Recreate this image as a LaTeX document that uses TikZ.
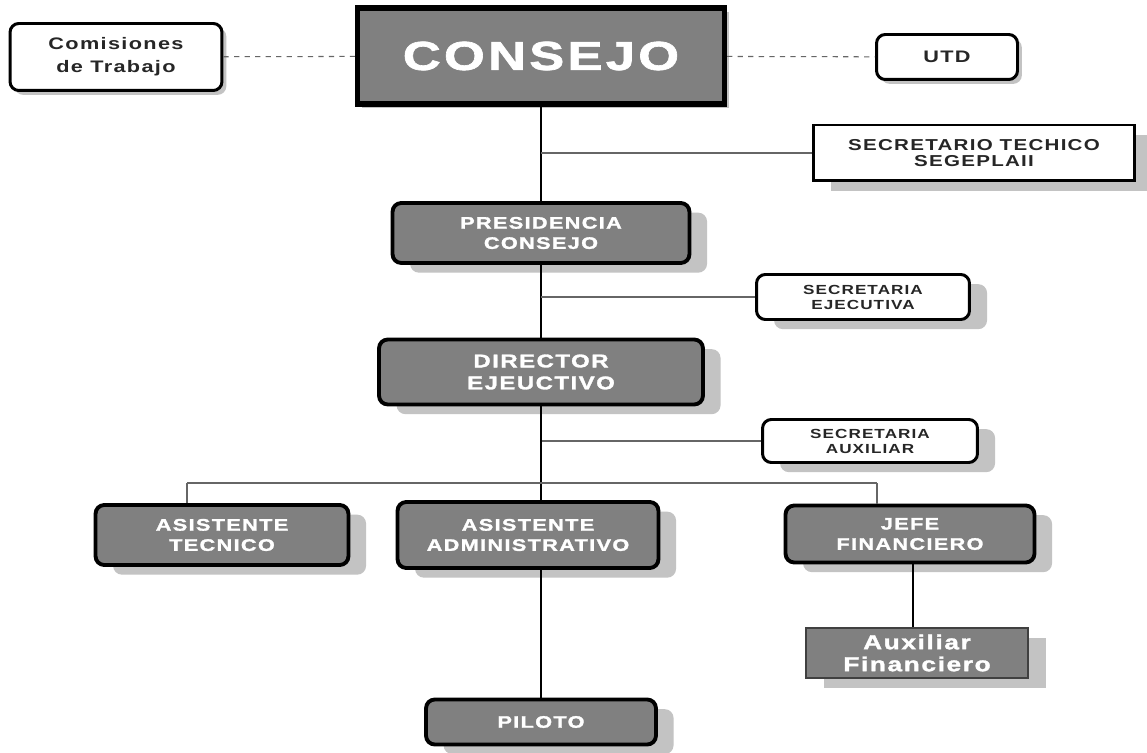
\documentclass[tikz,border=0pt]{standalone}
\usepackage{fontspec}
\newfontfamily\orgfont[FakeStretch=1.3,LetterSpace=8]{Liberation Sans}
\newfontfamily\heavyfont[FakeStretch=1.3,LetterSpace=8,FakeBold=1.6]{Liberation Sans}
\usetikzlibrary{shadows}
\definecolor{orggray}{RGB}{128,128,128}
\definecolor{orgshadow}{RGB}{195,195,195}

\begin{document}
\begin{tikzpicture}[x=0.02cm, y=-0.02cm,
  every node/.style={align=center, inner sep=0pt},
  sz/.style 2 args={minimum width=#1, minimum height=#2},
  bigshadow/.style={drop shadow={shadow xshift=10pt, shadow yshift=-5.5pt, fill=orgshadow, opacity=1}},
  tinyshadow/.style={drop shadow={shadow xshift=2.5pt, shadow yshift=-2.5pt, fill=orgshadow, opacity=1}},
  gbox/.style={draw=black, line width=2.2pt, fill=orggray, text=white, rounded corners=5pt,
               font=\heavyfont\bfseries\fontsize{9.5}{11.5}\selectfont},
  wbox/.style={draw=black, line width=1.7pt, fill=white, text=black!85, rounded corners=5pt,
               font=\orgfont\bfseries\fontsize{7.5}{8.5}\selectfont},
  link/.style={line width=0.8pt, black},
  side/.style={line width=0.6pt, black!60},
  dotlink/.style={dashed, line width=0.6pt, black!60}]
  \useasboundingbox[fill=white] (0,0) rectangle (1147,753);

  % top level
  \node[gbox, rounded corners=0pt, line width=3pt, tinyshadow, sz={7.34cm}{1.92cm},
        font=\heavyfont\bfseries\fontsize{23}{26}\selectfont] (consejo) at (541,56) {CONSEJO};
  \node[wbox, tinyshadow, sz={4.24cm}{1.34cm}, font=\orgfont\bfseries\fontsize{9.5}{13}\selectfont]
    (comis) at (116,57) {Comisiones\\de Trabajo};
  \node[wbox, tinyshadow, sz={2.82cm}{0.9cm}, font=\orgfont\bfseries\fontsize{9.5}{11}\selectfont]
    (utd) at (947,57) {UTD};

  \draw[dotlink] (comis) -- (consejo);
  \draw[dotlink] (consejo) -- (utd);

  % main column
  \node[wbox, rounded corners=0pt, bigshadow, sz={6.44cm}{1.12cm}, font=\orgfont\bfseries\fontsize{9}{9.5}\selectfont]
    (sectec) at (974,153) {SECRETARIO TECHICO\\SEGEPLAII};
  \node[gbox, bigshadow, sz={5.94cm}{1.2cm}] (presid) at (541,233) {PRESIDENCIA\\CONSEJO};
  \node[wbox, bigshadow, sz={4.26cm}{0.9cm}] (secejec) at (863,297) {SECRETARIA\\EJECUTIVA};
  \node[gbox, bigshadow, sz={6.48cm}{1.3cm}, font=\heavyfont\bfseries\fontsize{10.5}{12.5}\selectfont]
    (director) at (541,372) {DIRECTOR\\EJEUCTIVO};
  \node[wbox, bigshadow, sz={4.3cm}{0.86cm}] (secaux) at (870,441) {SECRETARIA\\AUXILIAR};

  \draw[link] (consejo) -- (presid);
  \draw[link] (presid) -- (director);
  \draw[side] (consejo.south |- sectec.west) -- (sectec.west);
  \draw[side] (presid.south |- secejec.west) -- (secejec.west);
  \draw[side] (director.south |- secaux.west) -- (secaux.west);

  % third level
  \node[gbox, bigshadow, sz={5.06cm}{1.2cm}] (asistec) at (222,535) {ASISTENTE\\TECNICO};
  \node[gbox, bigshadow, sz={5.22cm}{1.32cm}] (asisadm) at (528,535) {ASISTENTE\\ADMINISTRATIVO};
  \node[gbox, bigshadow, sz={4.98cm}{1.14cm}] (jefe) at (910,534) {JEFE\\FINANCIERO};
  \node[gbox, rounded corners=0pt, line width=1.2pt, draw=black!75, bigshadow, sz={4.44cm}{1cm},
        font=\heavyfont\bfseries\fontsize{11.5}{12.5}\selectfont] (auxfin) at (917,653) {Auxiliar\\Financiero};
  \node[gbox, bigshadow, sz={4.6cm}{0.9cm}] (piloto) at (541,722) {PILOTO};

  \draw[link] (director) -- (director.south |- asisadm.north);
  \draw[side] (187,483) coordinate (busl) -- (877,483) coordinate (busr);
  \draw[side] (busl) -- (busl |- asistec.north);
  \draw[side] (busr) -- (busr |- jefe.north);
  \draw[link] (director.south |- asisadm.south) -- (piloto);
  \draw[link] (913,563) coordinate (jefeb) -- (jefeb |- auxfin.north);
\end{tikzpicture}
\end{document}
